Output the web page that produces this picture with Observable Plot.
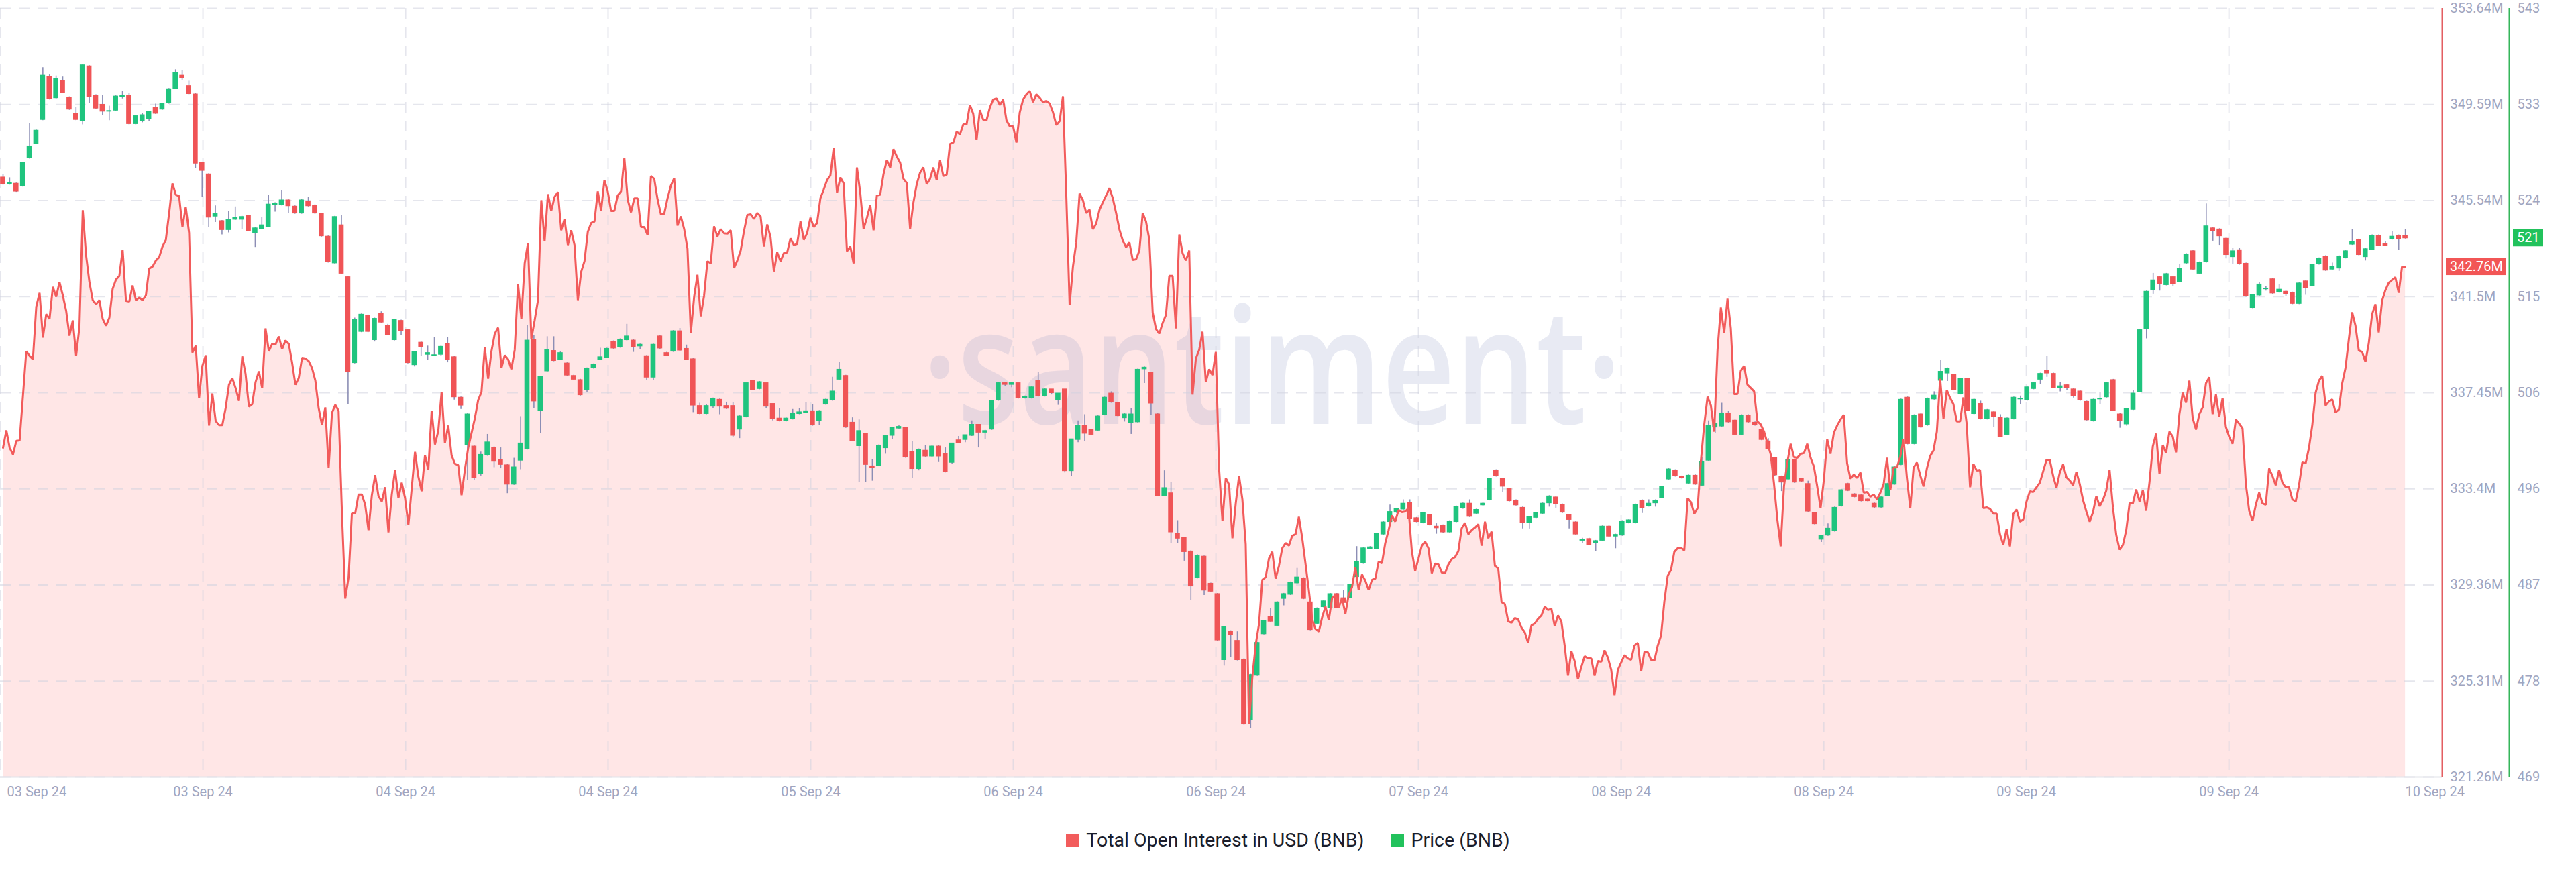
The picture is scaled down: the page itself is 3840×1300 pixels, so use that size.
<!DOCTYPE html>
<html>
<head>
<meta charset="utf-8">
<script src="https://cdn.jsdelivr.net/npm/d3@7"></script>
<script src="https://cdn.jsdelivr.net/npm/@observablehq/plot@0.6"></script>
<style>
  html, body { margin: 0; padding: 0; background: #ffffff; }
  #wrap { width: 3840px; }
  .legend { display: flex; justify-content: center; align-items: center; height: 84px;
            font-family: Roboto, "Noto Sans", sans-serif; font-size: 28.5px; color: #1b1d2b; }
  .legend .item { display: flex; align-items: center; margin: 0 20px; }
  .legend .sw { width: 19px; height: 19px; margin-right: 11px; }
</style>
</head>
<body>
<div id="wrap"></div>
<script>
// ---------- DATA ----------
// 30-minute BNB candles, index 0..362 (03 Sep 24 -> 10 Sep 24)
const openP = [
526.7,526.1,526.1,525.9,528.6,530.0,532.3,536.4,534.4,536.0,
534.4,532.8,532.2,537.4,534.6,533.7,533.1,533.2,534.5,534.6,
531.9,532.2,532.4,533.4,533.3,533.9,535.3,536.5,535.5,534.7,
528.1,527.0,523.0,522.5,521.7,522.7,522.7,523.0,521.4,521.8,
522.0,524.1,524.1,524.5,523.9,523.3,524.4,524.0,523.2,521.0,
518.5,522.1,517.1,508.9,511.9,513.4,511.1,513.6,512.4,511.1,
512.9,512.0,508.7,510.8,509.7,509.6,509.7,510.7,509.4,505.5,
501.0,500.8,498.2,500.0,500.7,499.5,499.0,497.2,499.5,500.6,
511.1,504.3,508.1,510.0,509.2,508.8,507.6,507.2,506.3,508.4,
509.2,509.4,510.9,510.4,511.1,511.0,510.5,509.5,507.5,511.4,
509.8,510.0,511.9,510.2,509.2,504.7,504.0,504.7,505.3,504.7,
504.7,502.5,503.7,507.1,506.4,506.9,504.9,503.5,503.3,503.5,
504.0,504.1,504.2,503.3,504.9,505.3,507.3,507.6,503.1,500.9,
502.0,498.9,499.0,500.7,501.9,502.6,502.6,500.3,498.7,500.4,
499.9,500.8,500.1,499.3,501.4,501.5,501.9,502.9,502.2,502.5,
505.3,506.9,506.8,506.9,505.5,505.5,507.1,505.7,506.3,505.3,
506.3,498.5,501.5,502.8,502.4,502.4,503.9,505.9,505.0,503.6,
503.1,503.2,508.3,507.9,503.9,496.1,496.3,492.4,492.0,490.7,
488.2,490.2,487.6,486.6,480.3,483.0,482.1,480.3,474.5,478.8,
482.8,484.4,483.6,486.2,486.6,487.7,488.1,485.8,483.8,485.4,
485.3,486.6,486.2,486.3,488.3,489.6,491.0,491.0,492.4,493.6,
494.5,494.8,495.4,493.9,493.5,494.2,493.1,493.2,492.6,493.6,
494.9,495.3,494.4,495.2,495.7,498.5,497.7,496.7,495.6,494.9,
493.5,494.0,494.4,495.4,495.9,495.2,494.2,493.5,491.8,491.9,
491.6,491.8,493.1,492.2,492.3,493.5,493.5,495.6,495.1,495.4,
495.9,497.7,498.5,497.9,497.3,498.0,497.1,499.5,502.7,502.8,
504.0,503.3,502.0,503.8,503.1,502.4,501.3,499.7,497.9,497.7,
499.5,497.7,497.2,494.4,491.9,492.3,492.7,495.1,497.2,496.2,
496.1,495.7,495.3,495.0,496.1,497.2,499.1,505.5,501.1,503.9,
502.9,505.4,507.2,507.9,507.7,505.9,507.3,504.0,504.9,503.5,
504.1,503.6,502.0,503.5,505.4,505.3,506.4,507.3,508.1,507.8,
506.5,506.7,506.3,506.1,505.1,503.3,505.4,505.6,507.2,503.9,
503.0,504.4,506.1,512.2,515.9,517.1,516.4,517.1,516.7,518.5,
519.6,517.5,518.6,521.8,521.7,520.8,519.1,519.7,518.4,514.2,
515.4,516.0,516.9,515.7,515.7,515.6,514.6,516.7,516.3,518.4,
519.1,517.9,518.0,519.0,520.3,520.7,519.1,519.8,521.1,520.3,
520.8,521.1,521.1
];
const closeP = [
526.1,526.2,525.4,528.1,529.7,531.2,536.5,534.3,536.2,534.9,
533.3,532.3,537.5,534.5,533.4,533.1,533.1,534.5,534.6,531.9,
532.6,532.7,533.0,532.9,533.8,535.2,536.8,536.3,534.8,528.1,
527.4,522.9,523.2,521.7,522.6,522.8,522.9,521.6,521.8,522.1,
524.1,524.2,524.5,524.0,523.3,524.5,524.0,523.3,521.1,518.6,
522.9,517.5,508.0,513.0,513.5,511.9,513.1,512.8,511.6,513.0,
512.0,508.9,509.9,510.4,509.8,509.6,510.4,509.2,505.6,504.8,
503.9,497.8,500.0,501.2,499.4,499.1,497.2,498.8,501.1,511.0,
505.2,507.5,510.1,509.1,509.8,507.7,507.3,505.8,508.3,508.7,
509.4,510.2,510.3,511.1,511.4,510.4,510.6,507.5,510.6,510.3,
509.6,511.9,510.1,509.2,504.8,504.0,504.7,505.4,504.7,504.5,
501.9,503.7,506.9,506.3,507.0,504.7,503.5,503.3,503.5,504.0,
504.1,504.2,502.9,504.2,505.3,506.1,508.2,502.7,501.4,502.3,
499.1,498.8,500.9,501.8,502.6,502.7,499.8,498.7,500.5,499.9,
500.8,499.9,498.4,501.1,501.2,501.9,502.9,502.2,502.3,505.2,
506.9,506.8,506.9,505.5,505.6,506.5,505.7,506.3,506.0,505.9,
498.5,501.5,502.8,502.1,502.0,503.7,505.5,505.1,503.8,503.9,
503.9,508.2,508.4,505.0,496.1,496.8,492.6,492.0,490.7,487.4,
490.3,487.0,486.9,482.2,483.4,482.7,480.3,474.1,478.8,481.9,
484.0,484.0,485.8,486.6,487.7,488.2,486.2,483.2,485.2,485.9,
486.6,485.3,485.8,487.5,489.7,491.0,491.1,492.4,493.5,494.5,
494.8,495.3,493.9,493.6,494.4,493.3,493.0,492.6,493.6,495.0,
495.3,494.1,494.7,495.3,497.7,498.0,497.0,495.6,495.2,493.5,
494.0,494.4,495.3,496.0,495.3,494.5,493.8,492.4,491.8,491.4,
491.7,493.1,492.2,492.3,493.6,493.7,495.2,494.9,495.3,495.6,
496.9,498.6,498.0,497.8,498.0,497.2,499.3,502.8,503.0,504.0,
503.2,502.0,503.8,503.2,502.9,501.5,500.6,498.1,497.4,499.5,
497.4,497.5,494.6,493.4,492.2,492.9,494.9,496.6,496.6,496.0,
495.6,495.6,495.0,495.9,497.2,498.8,505.3,501.1,503.8,502.7,
505.4,505.7,508.0,508.3,506.3,507.3,504.3,505.3,503.5,504.3,
503.7,501.8,503.5,505.5,505.4,506.5,506.9,507.8,507.9,506.5,
506.6,506.5,505.7,505.3,503.4,505.3,505.4,506.9,504.3,503.3,
504.4,505.9,512.0,515.7,516.8,516.5,517.4,516.5,517.9,519.3,
517.9,518.5,522.0,521.6,521.1,519.3,519.6,518.4,515.3,515.4,
516.4,516.0,515.6,515.9,515.5,514.6,516.5,516.1,518.3,518.9,
517.8,518.1,519.1,519.6,520.5,519.3,519.8,521.1,520.2,520.2,
521.0,520.8,520.9
];
const highP = [
527.0,526.7,526.2,528.2,531.9,531.3,537.3,536.6,536.5,536.4,
534.5,533.5,537.6,537.5,534.7,534.6,533.6,534.6,535.0,534.8,
532.7,532.9,533.1,533.8,533.9,535.3,537.1,537.0,536.0,534.8,
528.2,527.1,524.0,522.6,523.5,523.9,523.0,523.1,521.9,522.9,
525.0,524.3,525.5,524.6,524.0,524.6,524.8,524.1,523.3,521.1,
523.0,523.1,517.2,513.2,513.6,513.5,513.2,513.8,512.6,513.1,
513.0,512.1,510.0,510.9,510.5,511.3,510.5,511.3,509.5,505.6,
504.0,500.9,500.3,502.0,500.8,500.7,499.1,499.7,503.7,512.5,
511.5,507.6,511.4,511.4,510.0,508.9,507.7,507.3,508.4,508.8,
510.3,510.3,511.0,511.2,512.6,511.1,510.7,509.6,510.7,511.5,
509.9,512.0,512.2,510.6,509.3,505.0,504.9,505.5,505.4,505.1,
505.1,503.8,506.9,507.2,507.1,506.9,504.9,504.5,503.6,504.4,
504.5,505.1,504.9,504.3,505.4,507.5,508.9,507.7,503.6,503.4,
502.1,499.6,501.0,501.9,502.7,502.9,502.7,501.3,500.6,500.9,
500.9,500.9,500.7,501.1,501.8,501.9,503.3,502.9,502.4,505.2,
507.0,507.0,507.0,506.9,505.7,506.6,508.0,506.4,506.3,505.9,
506.3,501.5,503.3,503.9,502.5,503.8,505.6,506.1,505.1,504.0,
504.5,508.3,508.5,508.0,504.0,498.5,497.4,493.7,492.1,490.8,
490.4,490.3,487.7,486.7,483.5,483.1,483.0,480.4,478.9,482.0,
484.1,485.2,485.9,486.7,487.8,489.1,488.2,485.9,485.3,486.0,
486.7,486.7,487.0,487.6,491.2,491.1,491.2,492.5,493.6,495.2,
494.9,495.7,495.7,494.0,494.5,494.3,493.4,493.3,493.7,495.1,
495.4,495.7,494.8,495.4,497.8,498.6,497.8,496.8,495.7,495.0,
494.1,494.5,495.4,496.1,496.0,495.3,494.3,493.6,492.0,492.0,
491.8,493.2,493.2,492.4,493.7,493.8,495.3,495.7,495.7,495.7,
497.0,498.7,498.6,498.0,498.1,498.1,499.8,503.3,503.1,505.0,
504.2,503.4,503.9,503.9,503.2,502.5,501.6,499.8,498.0,499.6,
499.6,497.8,497.5,494.5,492.3,493.4,495.0,496.7,497.3,496.3,
496.2,495.8,495.4,496.0,497.3,498.9,505.4,505.6,503.9,504.0,
505.5,506.1,509.1,508.4,507.8,507.4,507.4,505.4,505.2,504.4,
504.2,503.9,503.6,505.6,505.7,506.6,507.0,507.9,509.5,507.9,
507.0,506.8,506.4,506.2,505.2,505.4,506.0,507.0,507.3,504.0,
504.5,506.2,512.1,515.8,517.5,517.2,517.5,517.2,518.4,519.4,
519.7,518.6,524.2,521.9,521.8,520.9,519.9,519.9,518.5,515.5,
516.6,516.2,517.0,516.4,515.8,515.7,516.6,516.8,518.4,519.0,
519.2,518.5,519.2,519.7,521.7,520.8,519.9,521.2,521.2,520.6,
521.5,521.2,521.7
];
const lowP = [
526.0,526.0,525.3,525.8,528.5,529.9,532.2,534.2,534.3,534.8,
533.2,532.2,531.8,533.9,533.3,532.7,532.2,533.1,534.3,531.8,
531.8,532.0,532.1,532.8,533.2,533.8,535.2,536.1,534.7,527.6,
524.8,521.9,522.4,521.2,521.4,522.6,521.7,521.5,520.0,521.7,
521.9,523.4,524.0,523.3,523.2,523.2,523.9,523.2,521.0,518.5,
518.4,517.4,504.9,508.8,511.8,511.8,510.9,512.7,511.5,511.0,
511.5,508.8,508.5,509.5,509.1,509.5,509.5,508.9,505.3,504.4,
497.6,497.6,498.0,499.9,498.8,498.7,496.3,497.1,498.6,500.5,
504.5,502.1,508.0,509.0,509.1,507.6,507.2,505.7,506.0,508.3,
509.1,509.3,510.2,510.3,511.0,509.9,510.2,507.2,507.2,510.2,
509.5,509.9,510.0,509.1,504.1,503.9,503.9,504.5,503.9,504.4,
501.7,501.6,503.6,506.2,506.3,504.5,503.3,503.2,503.2,503.4,
503.9,504.0,502.8,502.9,504.8,505.2,507.2,502.6,501.3,497.4,
497.4,497.5,498.9,500.1,501.5,502.5,499.7,497.8,498.5,499.8,
499.8,499.3,498.3,499.1,501.1,501.2,501.8,500.7,501.5,502.4,
505.2,506.6,506.5,505.4,505.4,505.4,505.6,505.6,505.8,504.8,
498.3,498.0,501.2,501.3,501.9,502.3,503.8,505.0,503.7,503.2,
502.0,503.1,506.9,503.8,496.0,496.0,491.5,491.5,489.8,486.0,
488.1,486.5,486.8,482.1,479.7,480.5,480.2,474.0,473.7,478.7,
482.7,483.9,483.5,485.5,486.5,487.6,486.1,483.1,483.7,485.3,
485.2,485.2,485.7,486.2,488.2,489.5,490.9,490.9,492.3,493.5,
494.4,494.7,493.8,493.5,493.4,493.2,492.4,492.5,492.5,493.5,
494.8,494.0,494.3,495.1,495.6,497.9,496.4,495.5,495.1,492.9,
492.9,493.9,494.3,495.0,494.9,494.4,492.9,492.3,491.5,491.3,
490.7,491.7,492.1,491.0,492.2,493.4,493.4,494.4,495.0,495.0,
495.8,497.6,497.9,497.7,497.2,497.1,497.0,499.4,502.1,502.7,
503.1,501.9,501.9,503.1,502.8,501.4,500.5,498.0,496.5,497.6,
497.3,497.4,494.5,493.3,491.6,492.2,492.6,495.0,496.5,495.9,
495.5,495.5,494.9,494.9,496.0,497.1,499.0,501.0,501.0,502.6,
502.8,505.3,507.1,507.1,506.2,505.8,504.2,503.9,503.4,503.4,
502.7,501.7,501.9,503.4,504.9,505.2,506.3,506.8,507.5,506.4,
506.1,506.2,505.5,505.2,503.3,503.2,504.9,505.5,504.2,502.6,
502.8,504.3,506.0,511.2,515.5,515.8,516.3,516.2,516.6,518.4,
517.8,517.4,518.5,520.6,520.2,518.9,518.4,518.3,515.2,514.1,
515.3,515.8,515.5,515.6,515.3,514.5,514.5,515.4,516.2,518.3,
517.7,517.8,517.7,518.9,520.2,519.2,518.7,519.7,520.1,520.1,
520.7,519.7,520.8
];
// Total Open Interest in USD (BNB), millions, sampled every 15 minutes
const oiValues = [
335.13,335.87,335.13,334.85,335.42,335.44,337.31,339.20,339.00,338.86,
341.07,341.66,339.77,340.76,340.56,341.91,341.49,342.11,341.55,340.90,
339.85,340.50,339.00,340.22,345.14,343.24,342.11,341.35,341.18,341.35,
340.56,340.27,340.61,341.83,342.22,342.37,343.47,341.32,341.29,341.97,
341.35,341.46,341.35,341.55,342.68,342.76,343.02,343.16,343.61,343.89,
345.02,346.27,345.79,345.73,344.43,345.28,344.18,339.14,339.43,337.22,
338.58,339.03,336.07,337.42,336.26,336.09,336.09,336.80,337.79,338.07,
337.65,337.11,338.98,338.24,336.86,336.97,337.90,338.35,337.65,340.16,
339.20,339.51,339.48,339.82,339.29,339.65,339.51,338.72,337.79,338.07,
338.92,338.89,338.78,338.49,337.96,336.80,336.09,336.83,334.29,336.60,
336.94,336.69,332.42,328.78,329.68,332.37,332.37,333.16,333.16,332.73,
331.66,333.13,333.98,333.10,332.87,333.47,331.57,333.16,334.20,333.01,
333.66,333.01,331.88,333.41,334.96,333.92,333.30,334.82,334.20,336.69,
335.27,335.84,337.48,335.33,336.07,334.82,334.46,334.40,333.13,334.20,
335.13,335.75,336.37,337.14,337.48,339.37,338.04,339.20,339.94,340.19,
338.49,339.03,338.86,338.44,339.26,342.03,340.56,342.90,343.75,339.71,
340.50,341.35,345.56,343.84,345.81,345.11,345.70,345.90,344.29,344.77,
343.67,344.29,343.67,341.35,342.54,342.99,344.23,344.60,344.66,345.93,
345.11,346.41,345.93,345.11,345.11,345.76,345.93,347.34,345.59,345.05,
345.64,345.64,344.43,344.43,344.09,346.58,346.46,345.59,344.97,344.99,
345.64,346.18,346.49,344.49,344.88,344.35,343.52,339.96,341.49,342.42,
340.67,341.55,342.99,342.90,344.46,344.03,344.34,344.17,344.15,344.29,
342.70,343.02,343.44,344.26,344.94,344.97,344.77,345.02,344.88,343.61,
344.54,344.00,342.56,343.36,342.99,343.33,343.36,343.95,343.67,343.72,
344.66,343.89,344.17,344.82,344.43,344.60,345.64,346.01,346.41,346.60,
347.76,345.87,346.52,346.27,343.41,343.61,342.90,346.94,345.87,344.35,
344.82,345.36,344.29,345.76,345.79,346.66,347.25,346.94,347.71,347.40,
347.14,346.46,346.29,344.35,345.47,346.24,346.72,346.94,346.24,346.46,
346.94,346.41,347.23,346.58,346.63,347.93,347.99,348.44,348.33,348.75,
348.75,349.57,349.20,348.10,349.35,348.95,348.92,349.46,349.80,349.85,
349.57,349.80,348.92,348.67,348.67,347.99,349.26,349.80,350.02,350.16,
349.69,350.02,349.88,349.69,349.74,349.63,349.26,348.72,348.89,349.94,
345.76,341.15,342.76,343.78,345.84,345.56,345.02,345.16,344.34,344.57,
345.16,345.47,345.76,346.07,345.64,345.02,344.32,343.86,343.58,343.78,
343.04,343.07,343.44,345.02,344.66,343.89,340.84,340.13,339.94,340.39,
340.73,342.37,342.37,340.16,344.12,343.33,343.02,343.44,337.37,338.89,
339.26,340.02,337.90,338.44,338.19,339.17,334.23,332.05,333.86,333.58,
331.32,332.79,333.95,332.96,331.07,323.49,325.47,326.83,327.70,329.57,
329.68,330.47,330.75,329.62,330.16,330.90,331.12,331.01,331.43,331.49,
332.22,331.35,330.25,329.14,327.90,327.50,327.39,327.99,328.44,327.87,
328.80,328.94,328.41,328.80,328.13,328.94,329.26,330.10,329.14,329.79,
329.54,329.14,329.57,329.62,330.33,330.27,331.12,331.66,332.28,332.02,
332.51,332.42,332.45,332.59,330.78,329.94,330.47,331.01,331.18,330.90,
329.85,330.25,330.22,329.88,329.85,330.22,330.44,330.53,330.78,331.74,
331.97,331.49,331.66,331.77,331.91,331.01,332.02,331.32,331.60,330.16,
330.05,328.63,328.55,327.82,327.76,327.96,327.90,327.56,327.36,326.91,
327.65,327.73,327.93,328.07,328.44,328.30,328.35,327.62,328.07,327.82,
326.80,325.53,326.57,326.15,325.38,325.89,326.35,326.26,326.26,325.53,
326.15,326.12,326.60,326.29,325.78,324.71,325.78,326.09,326.40,326.26,
326.20,326.80,326.91,325.72,326.54,326.52,326.20,326.17,326.80,327.22,
328.66,329.74,329.99,330.75,330.90,330.92,330.81,333.01,332.84,332.34,
332.59,334.60,336.12,337.28,336.91,335.81,339.26,341.04,339.96,341.41,
340.16,337.39,337.39,338.38,338.58,337.79,337.65,337.51,336.24,336.12,
335.81,335.33,334.85,333.61,332.11,330.98,333.52,334.51,335.30,334.74,
334.71,334.88,334.91,335.30,334.71,334.34,333.50,332.59,333.78,335.50,
334.88,335.76,336.07,336.32,336.52,334.48,333.83,334.00,333.86,334.09,
333.24,333.27,333.07,333.16,332.96,333.24,333.61,334.71,333.35,334.29,
334.31,334.77,335.50,333.86,332.59,334.29,334.51,333.97,333.50,334.26,
334.79,335.02,335.81,338.04,336.35,337.56,337.23,336.97,336.24,336.24,
337.25,336.12,333.47,334.45,334.17,334.20,332.59,332.62,332.56,332.36,
332.36,331.49,331.04,331.71,330.98,332.34,332.53,332.02,332.11,332.87,
333.30,333.27,333.47,333.66,334.14,334.62,334.62,333.95,333.44,334.09,
334.43,333.89,333.75,333.55,334.12,333.61,332.93,332.45,332.02,332.42,
333.10,332.67,332.93,333.33,334.20,332.62,331.46,330.84,331.04,331.66,
332.79,332.79,333.38,332.87,333.35,332.48,333.69,335.19,335.73,334.03,
335.25,334.91,335.81,335.61,334.94,336.55,337.45,337.03,337.96,336.38,
335.90,336.55,336.83,337.85,338.10,336.55,337.37,336.43,337.23,336.01,
335.59,335.30,336.32,336.15,335.95,333.61,332.48,332.05,332.73,333.24,
332.79,332.73,334.26,333.95,333.55,334.20,333.66,333.47,333.47,332.96,
332.87,333.55,334.51,334.48,335.13,336.09,337.45,337.96,338.16,336.91,
337.08,337.17,336.63,336.74,337.85,338.50,339.71,340.84,340.27,339.23,
339.17,338.75,339.54,340.76,341.18,339.99,341.32,341.77,342.08,342.20,
342.31,341.66,342.76,342.76
];
// axis ticks (x in candle-index units)
const xTickPos    = [-0.40, 30.13, 60.66, 91.18, 121.71, 152.24, 182.77, 213.30, 243.83, 274.36, 304.89, 335.42, 366.46];
const xTickLabels = ["03 Sep 24","03 Sep 24","04 Sep 24","04 Sep 24","05 Sep 24","06 Sep 24","06 Sep 24","07 Sep 24","08 Sep 24","08 Sep 24","09 Sep 24","09 Sep 24","10 Sep 24"];
const oiTicks      = [321.26, 325.3075, 329.355, 333.4025, 337.45, 341.4975, 345.545, 349.5925, 353.64];
const oiTickLabels = ["321.26M","325.31M","329.36M","333.4M","337.45M","341.5M","345.54M","349.59M","353.64M"];
const priceTicks      = [469, 478.25, 487.5, 496.75, 506, 515.25, 524.5, 533.75, 543];
const priceTickLabels = ["469","478","487","496","506","515","524","533","543"];
const seriesNames = ["Total Open Interest in USD (BNB)", "Price (BNB)"];

// ---------- STYLE ----------
const RED = "#f05456", GREEN = "#1fc47e", WICK = "#8c8eb5";
const OI_LINE = "#f25b5b", AXIS_RED = "#e35f62", AXIS_GREEN = "#35b65a";
const LABEL = "#a0a5bf";
const X_MIN = -0.404, X_MAX = 367.55;
const OI_STEP = 362 / (oiValues.length - 1);

// ---------- BUILD ----------
const candles = openP.map((o, i) => ({i, open: o, close: closeP[i], high: highP[i], low: lowP[i]}));
const oi = oiValues.map((v, j) => ({x: j * OI_STEP, v}));
// the price series shares the plot's y scale through a linear map of its own axis range
const p2y = d3.scaleLinear([priceTicks[0], priceTicks[priceTicks.length - 1]], [oiTicks[0], oiTicks[oiTicks.length - 1]]);
const priceTicksY = priceTicks.map(p2y);
const grid = {stroke: "#cfd1de", strokeOpacity: 0.55, strokeWidth: 2, strokeDasharray: "16,12"};

const plot = Plot.plot({
  width: 3840, height: 1210,
  marginTop: 12, marginBottom: 52, marginLeft: 0, marginRight: 200,
  x: {domain: [X_MIN, X_MAX], axis: null},
  y: {domain: [oiTicks[0], oiTicks[oiTicks.length - 1]], axis: null},
  color: {type: "identity"},
  style: {fontFamily: "Roboto, 'Noto Sans', sans-serif", fontSize: "20px", background: "transparent", overflow: "visible"},
  marks: [
    Plot.areaY(oi, {x: "x", y1: oiTicks[0], y2: "v", fill: "#ff6464", fillOpacity: 0.16, className: "oi-area"}),
    Plot.gridY(oiTicks, grid),
    Plot.gridX(xTickPos.slice(0, -1), grid),
    Plot.ruleY([oiTicks[0]], {stroke: "#e2e3ea", strokeWidth: 2}),
    Plot.ruleX(candles, {x: "i", y1: d => p2y(d.low), y2: d => p2y(d.high), stroke: WICK, strokeWidth: 1.6}),
    Plot.rect(candles, {
      x1: d => d.i - 0.385, x2: d => d.i + 0.385,
      y1: d => p2y(d.open), y2: d => p2y(d.close),
      insetTop: -1, insetBottom: -1,
      fill: d => d.close >= d.open ? GREEN : RED
    }),
    Plot.line(oi, {x: "x", y: "v", stroke: OI_LINE, strokeWidth: 3, strokeLinejoin: "miter"}),
    Plot.ruleX([X_MAX], {stroke: AXIS_RED, strokeWidth: 2}),
    Plot.ruleX([X_MAX], {stroke: AXIS_GREEN, strokeWidth: 2, dx: 100}),
    Plot.axisX([xTickPos[0]], {anchor: "bottom", label: null, tickSize: 0, tickPadding: 14, textAnchor: "start", dx: 10,
      tickFormat: () => xTickLabels[0], fill: LABEL}),
    Plot.axisX(xTickPos.slice(1), {anchor: "bottom", label: null, tickSize: 0, tickPadding: 14,
      tickFormat: d => xTickLabels[xTickPos.indexOf(d)], fill: LABEL}),
    Plot.axisY(oiTicks, {anchor: "right", label: null, tickSize: 0, tickPadding: 12,
      tickFormat: d => oiTickLabels[oiTicks.indexOf(d)], fill: LABEL}),
    Plot.axisY(priceTicksY, {anchor: "right", label: null, tickSize: 0, tickPadding: 12, dx: 100,
      tickFormat: d => priceTickLabels[priceTicksY.indexOf(d)], fill: LABEL})
  ]
});

const wrap = document.getElementById("wrap");
wrap.appendChild(plot);

// watermark (between the area fill and the candles)
const NS = "http://www.w3.org/2000/svg";
const xs = plot.scale("x"), ys = plot.scale("y");
const areaNode = plot.querySelector(".oi-area");
const cx = (xs.apply(X_MIN) + xs.apply(X_MAX)) / 2 + 76;
const wm = document.createElementNS(NS, "text");
wm.setAttribute("transform", `translate(${cx},632) scale(1,1.27)`);
wm.setAttribute("text-anchor", "middle");
wm.setAttribute("font-family", "'Open Sans', 'Noto Sans', sans-serif");
wm.setAttribute("font-weight", "600");
wm.setAttribute("font-size", "190");
wm.setAttribute("fill", "rgb(150,160,200)");
wm.setAttribute("fill-opacity", "0.22");
wm.textContent = "\u00B7santiment\u00B7";
if (areaNode && areaNode.nextSibling) plot.insertBefore(wm, areaNode.nextSibling); else plot.appendChild(wm);

// last-value badges on the two right axes
const xr = xs.apply(X_MAX);
function badge(yVal, label, color, xOff, w) {
  const y = ys.apply(yVal);
  const g = document.createElementNS(NS, "g");
  const r = document.createElementNS(NS, "rect");
  r.setAttribute("x", xr + xOff); r.setAttribute("y", y - 13);
  r.setAttribute("width", w); r.setAttribute("height", 26); r.setAttribute("fill", color);
  const t = document.createElementNS(NS, "text");
  t.setAttribute("x", xr + xOff + 6); t.setAttribute("y", y);
  t.setAttribute("dy", "0.35em"); t.setAttribute("fill", "#ffffff");
  t.setAttribute("text-anchor", "start");
  t.setAttribute("font-size", "20");
  t.setAttribute("font-family", "Roboto, 'Noto Sans', sans-serif");
  t.textContent = label;
  g.appendChild(r); g.appendChild(t); plot.appendChild(g);
}
const lastOI = oiValues[oiValues.length - 1];
const lastPrice = closeP[closeP.length - 1];
badge(lastOI, lastOI.toFixed(2) + "M", "#f25656", 6, 90);
badge(p2y(lastPrice), String(Math.round(lastPrice)), "#22c25c", 106, 45);

// legend below the chart
const legend = document.createElement("div");
legend.className = "legend";
[[seriesNames[0], "#f25c5c"], [seriesNames[1], "#22c25c"]].forEach(([name, col]) => {
  const it = document.createElement("div"); it.className = "item";
  const sw = document.createElement("div"); sw.className = "sw"; sw.style.background = col;
  const tx = document.createElement("span"); tx.textContent = name;
  it.appendChild(sw); it.appendChild(tx); legend.appendChild(it);
});
wrap.appendChild(legend);
</script>
</body>
</html>
